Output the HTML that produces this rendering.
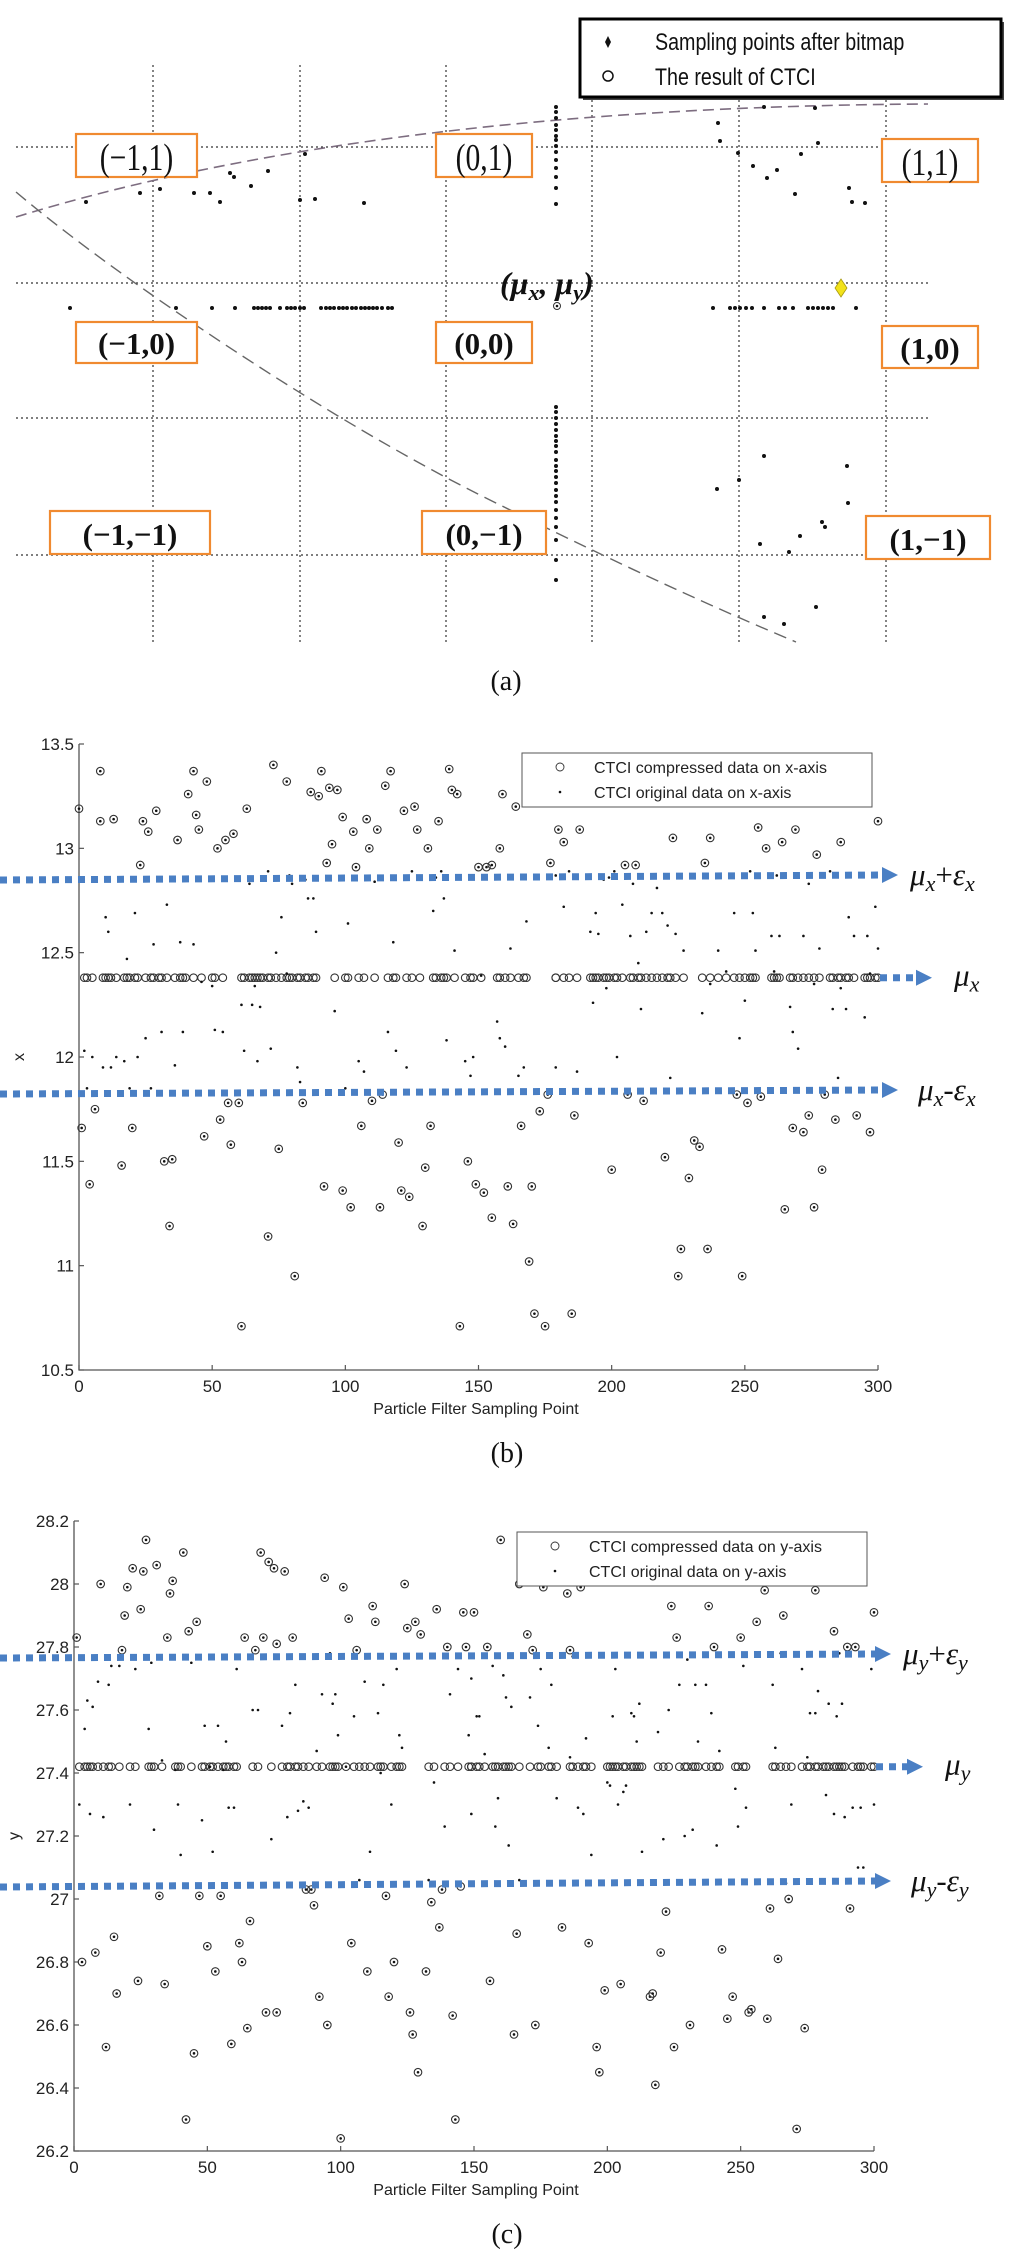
<!DOCTYPE html>
<html><head><meta charset="utf-8"><style>
html,body{margin:0;padding:0;background:#fff;}
svg{display:block;}
text{font-family:"Liberation Sans",sans-serif;}
.tk{font-size:17px;fill:#222;}
.ser{font-family:"Liberation Serif",serif;}
</style></head><body>
<svg id="fig" width="1024" height="2261" viewBox="0 0 1024 2261" xmlns="http://www.w3.org/2000/svg">
<g id="panelA"></g>
<g id="panelB"></g>
<g id="panelC"></g>
</svg>
<script>
// ---------- Panel (b) data ----------
const bMu = 12.38;
const bXTicks = [0,50,100,150,200,250,300];
const bYTicks = [10.5,11,11.5,12,12.5,13,13.5];
const bYTickLabels = ["10.5","11","11.5","12","12.5","13","13.5"];
const bHighIdx = [0,8,8,13,23,24,26,29,37,41,43,44,45,48,52,55,58,63,73,78,87,90,91,93,94,95,97,99,103,104,108,109,112,115,117,122,126,127,131,135,139,140,142,150,153,155,158,159,164,177,180,182,188,205,209,223,235,237,255,258,264,269,277,286,300];
const bHighVal = [13.19,13.37,13.13,13.14,12.92,13.13,13.08,13.18,13.04,13.26,13.37,13.16,13.09,13.32,13.0,13.04,13.07,13.19,13.4,13.32,13.27,13.25,13.37,12.93,13.29,13.02,13.28,13.15,13.08,12.91,13.14,13.0,13.09,13.3,13.37,13.18,13.2,13.09,13.0,13.13,13.38,13.28,13.26,12.91,12.91,12.92,13.0,13.26,13.2,12.93,13.09,13.03,13.09,12.92,12.92,13.05,12.93,13.05,13.1,13.0,13.03,13.09,12.97,13.03,13.13];
const bLowIdx = [1,4,6,16,20,32,34,35,47,53,56,57,60,61,71,75,81,84,92,99,102,106,110,113,114,120,121,124,129,130,132,143,146,149,152,155,161,163,166,169,170,171,173,175,176,185,186,200,206,212,220,225,226,229,231,233,236,247,249,251,256,265,268,272,274,276,279,280,284,292,297];
const bLowVal = [11.66,11.39,11.75,11.48,11.66,11.5,11.19,11.51,11.62,11.7,11.78,11.58,11.78,10.71,11.14,11.56,10.95,11.78,11.38,11.36,11.28,11.67,11.79,11.28,11.82,11.59,11.36,11.33,11.19,11.47,11.67,10.71,11.5,11.39,11.35,11.23,11.38,11.2,11.67,11.02,11.38,10.77,11.74,10.71,11.82,10.77,11.72,11.46,11.82,11.79,11.52,10.95,11.08,11.42,11.6,11.57,11.08,11.82,10.95,11.78,11.81,11.27,11.66,11.64,11.72,11.28,11.46,11.82,11.7,11.72,11.64];
const bInIdx = [2,3,5,9,10,11,12,14,17,18,19,21,22,25,27,28,30,31,33,36,38,39,40,43,46,50,51,54,61,62,64,65,66,67,68,69,71,72,74,76,78,79,80,82,83,85,86,88,89,96,100,101,105,107,111,116,118,119,123,125,128,133,134,136,137,138,141,145,147,148,151,157,158,160,162,165,167,168,179,179,182,184,187,192,193,194,195,197,198,199,201,202,204,207,208,210,211,213,215,217,219,221,222,224,227,234,237,240,243,246,248,250,252,253,254,260,261,262,263,267,268,270,272,274,276,278,282,283,285,286,288,289,291,295,296,297,299,300];
const bInVal = [12.03,11.85,12.0,11.95,12.67,12.6,11.95,12.0,11.98,12.47,11.85,12.69,12.0,12.09,11.85,12.54,12.85,12.12,12.73,11.96,12.55,12.12,12.85,12.54,12.36,12.34,12.13,12.12,12.25,12.03,12.83,12.25,12.34,11.98,12.24,12.85,12.89,12.04,12.5,12.67,12.4,12.87,12.83,11.95,11.88,12.85,12.76,12.76,12.6,12.22,11.85,12.64,11.98,11.93,12.84,12.12,12.55,12.03,11.95,12.89,12.85,12.7,12.86,12.89,12.76,12.08,12.51,11.98,11.91,12.0,12.39,12.17,12.09,12.05,12.52,11.91,11.95,12.65,12.87,11.95,12.72,12.89,11.93,12.6,12.26,12.69,12.59,12.85,12.33,12.86,12.89,12.0,12.73,12.58,12.83,12.45,12.23,12.6,12.69,12.81,12.69,12.63,11.9,12.59,12.51,12.21,12.35,12.51,12.41,12.69,12.09,12.27,12.89,12.69,12.51,12.58,12.41,12.87,12.58,12.24,12.12,12.04,12.58,12.83,12.35,12.52,12.89,12.23,11.9,12.33,12.23,12.67,12.58,12.19,12.58,12.4,12.72,12.52];

// ---------- Panel (c) data ----------
const cMu = 27.42;
const cXTicks = [0,50,100,150,200,250,300];
const cYTicks = [26.2,26.4,26.6,26.8,27,27.2,27.4,27.6,27.8,28,28.2];
const cYTickLabels = ["26.2","26.4","26.6","26.8","27","27.2","27.4","27.6","27.8","28","28.2"];
const cHighIdx = [1,10,18,19,20,22,25,26,27,31,35,36,37,41,43,46,64,68,70,71,73,75,76,79,82,94,101,103,106,112,113,124,125,128,130,136,140,146,147,150,155,160,167,170,172,176,185,186,190,224,226,238,240,250,256,259,266,278,285,290,293,300];
const cHighVal = [27.83,28.0,27.79,27.9,27.99,28.05,27.92,28.04,28.14,28.06,27.83,27.97,28.01,28.1,27.85,27.88,27.83,27.79,28.1,27.83,28.07,28.05,27.81,28.04,27.83,28.02,27.99,27.89,27.79,27.93,27.88,28.0,27.86,27.88,27.84,27.92,27.8,27.91,27.8,27.91,27.8,28.14,28.0,27.84,27.79,27.99,27.97,27.79,27.99,27.93,27.83,27.93,27.8,27.83,27.88,27.98,27.9,27.98,27.85,27.8,27.8,27.91];
const cLowIdx = [3,8,12,15,16,24,32,34,42,45,47,50,53,55,59,62,63,65,66,72,76,87,89,90,92,95,100,104,110,117,118,120,126,127,129,132,134,137,138,142,143,145,156,165,166,173,183,193,196,197,199,205,216,217,218,220,222,225,231,243,245,247,253,254,260,261,264,268,271,274,291];
const cLowVal = [26.8,26.83,26.53,26.88,26.7,26.74,27.01,26.73,26.3,26.51,27.01,26.85,26.77,27.01,26.54,26.86,26.8,26.59,26.93,26.64,26.64,27.03,27.03,26.98,26.69,26.6,26.24,26.86,26.77,27.01,26.69,26.8,26.64,26.57,26.45,26.77,26.99,26.91,27.03,26.63,26.3,27.04,26.74,26.57,26.89,26.6,26.91,26.86,26.53,26.45,26.71,26.73,26.69,26.7,26.41,26.83,26.96,26.53,26.6,26.84,26.62,26.69,26.64,26.65,26.62,26.97,26.81,27.0,26.27,26.59,26.97];
const cInIdx = [2,4,5,6,7,9,11,13,14,17,21,23,28,29,30,33,38,39,40,44,48,49,51,52,54,56,57,58,60,61,67,69,74,78,80,81,83,84,86,88,91,93,96,97,98,99,102,105,107,109,111,114,115,116,119,121,122,123,133,135,139,141,144,148,149,149,151,152,154,157,158,159,161,162,163,164,167,171,174,175,178,179,181,186,187,189,191,192,194,200,201,202,203,204,206,207,209,210,211,212,213,219,221,223,227,229,230,232,233,234,237,239,241,242,248,249,251,252,262,263,265,267,269,273,275,276,278,279,281,282,283,285,286,287,288,289,292,294,295,296,299,300];
const cInVal = [27.3,27.54,27.63,27.27,27.61,27.69,27.26,27.68,27.74,27.74,27.3,27.73,27.54,27.75,27.22,27.44,27.41,27.3,27.14,27.75,27.25,27.55,27.42,27.15,27.55,27.41,27.5,27.29,27.29,27.73,27.6,27.6,27.19,27.55,27.26,27.59,27.68,27.28,27.31,27.29,27.47,27.65,27.78,27.62,27.65,27.52,27.42,27.58,27.06,27.69,27.15,27.59,27.4,27.68,27.3,27.73,27.52,27.48,27.06,27.37,27.23,27.65,27.73,27.52,27.27,27.7,27.58,27.58,27.46,27.74,27.23,27.32,27.71,27.64,27.17,27.61,27.06,27.64,27.55,27.73,27.48,27.68,27.32,27.45,27.77,27.29,27.27,27.51,27.14,27.37,27.36,27.58,27.73,27.3,27.34,27.36,27.59,27.58,27.5,27.62,27.15,27.53,27.19,27.6,27.68,27.2,27.76,27.22,27.68,27.5,27.68,27.59,27.17,27.47,27.35,27.23,27.74,27.29,27.68,27.48,27.78,27.05,27.3,27.73,27.45,27.59,27.59,27.66,27.78,27.33,27.62,27.27,27.58,27.78,27.62,27.26,27.29,27.1,27.29,27.1,27.73,27.3];

// ---------- Panel (a) diagram data ----------
const aHGrid = [147,283,418,555];
const aVGrid = [153,300,446,592,739,886];
const aColX = 556;
const aColY = [107,112,118,125,130,136,140,146,152,160,168,177,188,204,407,412,418,424,430,436,441,446,452,460,466,471,477,483,490,496,502,510,518,527,540,560,580];
const aRowY = 308;
const aRowX = [70,176,212,235,254,258,262,266,270,280,287,291,295,300,304,321,326,330,334,339,343,347,352,356,361,365,369,373,377,382,388,392,713,730,735,740,746,752,764,779,785,793,808,813,818,823,828,833,856];
const aPtX = [86,140,160,194,210,220,230,234,251,268,305,300,315,364,718,720,738,753,767,777,764,815,818,801,795,849,852,865,764,717,739,847,848,822,825,800,760,789,764,784,816];
const aPtY = [202,193,189,193,193,202,173,177,186,171,154,200,199,203,123,141,153,166,178,170,107,108,143,154,194,188,202,203,456,489,480,466,503,522,527,536,544,552,617,624,607];

const NS = "http://www.w3.org/2000/svg";
function mk(parent, tag, attrs, txt){
  const e = document.createElementNS(NS, tag);
  for (const k in attrs) e.setAttribute(k, attrs[k]);
  if (txt !== undefined) e.textContent = txt;
  parent.appendChild(e);
  return e;
}

// ===== Panel A =====
(function(){
  const g = document.getElementById('panelA');
  aHGrid.forEach(y=>{
    const l = mk(g,'line',{x1:16,y1:y,x2:930,y2:y,stroke:'#333','stroke-width':1.2,'stroke-dasharray':'2 3'});
    
    
  });
  aVGrid.forEach(x=>{
    const l = mk(g,'line',{x1:x,y1:65,x2:x,y2:642,stroke:'#333','stroke-width':1.2,'stroke-dasharray':'2 3'});
    
    
  });
  const c1 = mk(g,'path',{d:'M16 217 C 250 145, 560 106, 928 104',fill:'none',stroke:'#7d6d80','stroke-width':1.6,'stroke-dasharray':'11 6'});
  
  
  const c2 = mk(g,'path',{d:'M16 192 C 120 280, 330 420, 480 495 S 720 610, 796 642',fill:'none',stroke:'#666','stroke-width':1.4,'stroke-dasharray':'13 7'});
  
  
  aColY.forEach(y=>{
    const d = mk(g,'circle',{cx:aColX,cy:y,r:2,fill:'#111'});
    
    
  });
  aRowX.forEach(x=>{
    const d = mk(g,'circle',{cx:x,cy:aRowY,r:2,fill:'#111'});
    
    
  });
  aPtX.forEach((x,i)=>{
    const d = mk(g,'circle',{cx:x,cy:aPtY[i],r:2,fill:'#111'});
    
    
  });
  const ctr = mk(g,'circle',{cx:557,cy:306,r:3.5,fill:'none',stroke:'#333','stroke-width':1});
  
  
  mk(g,'circle',{cx:557,cy:306,r:1.3,fill:'#111'});
  const dia = mk(g,'path',{d:'M841 279 L847 288 L841 297 L835 288 Z',fill:'#f2e21a',stroke:'#a89a10','stroke-width':0.8});
  
  
  const mu = mk(g,'text',{x:500,y:294,'font-size':32,'font-weight':'bold','font-style':'italic',class:'ser',fill:'#111'});
  
  
  mu.innerHTML = '(μ<tspan font-size="22" dy="6">x</tspan><tspan dy="-6">, μ</tspan><tspan font-size="22" dy="6">y</tspan><tspan dy="-6">)</tspan>';
  const boxes = [
    [76,134,121,43,'(−1,1)','box-minus1-1',0],[436,134,96,43,'(0,1)','box-0-1',0],[882,139,96,43,'(1,1)','box-1-1',0],
    [76,322,121,41,'(−1,0)','box-minus1-0',1],[436,322,96,41,'(0,0)','box-0-0',1],[882,326,96,42,'(1,0)','box-1-0',1],
    [50,511,160,43,'(−1,−1)','box-minus1-minus1',1],[422,511,124,43,'(0,−1)','box-0-minus1',1],[866,516,124,43,'(1,−1)','box-1-minus1',1]
  ];
  boxes.forEach(b=>{
    const r = mk(g,'rect',{x:b[0],y:b[1],width:b[2],height:b[3],fill:'#fff',stroke:'#f08a30','stroke-width':2.2});
    
    
    const cx = b[0]+b[2]/2;
    const attrs = b[6] ? {x:cx,y:b[1]+b[3]-9,'text-anchor':'middle','font-size':31,'font-weight':'bold',class:'ser',fill:'#111'}
                       : {x:cx,y:b[1]+b[3]-7,'text-anchor':'middle','font-size':38,class:'ser',fill:'#111',transform:`translate(${cx} 0) scale(0.78 1) translate(${-cx} 0)`};
    const t = mk(g,'text',attrs,b[4]);
    
    
  });
  const lg = mk(g,'g',{});
  
  
  mk(lg,'rect',{x:583,y:22,width:421,height:78,fill:'#444'});
  mk(lg,'rect',{x:580,y:19,width:421,height:78,fill:'#fff',stroke:'#000','stroke-width':3});
  mk(lg,'path',{d:'M608 36 L611 42 L608 48 L605 42 Z',fill:'#111'});
  mk(lg,'circle',{cx:608,cy:76,r:5,fill:'none',stroke:'#111','stroke-width':1.5});
  const t1 = mk(lg,'text',{x:655,y:50,'font-size':24,fill:'#111',transform:'translate(655 0) scale(0.82 1) translate(-655 0)'},'Sampling points after bitmap');
  
  
  const t2 = mk(lg,'text',{x:655,y:85,'font-size':24,fill:'#111',transform:'translate(655 0) scale(0.82 1) translate(-655 0)'},'The result of CTCI');
  
  
  const cap = mk(g,'text',{x:506,y:690,'text-anchor':'middle','font-size':28,class:'ser',fill:'#111'},'(a)');
  
  
})();

// ===== Scatter panels =====
function drawPanel(o){
  const g = document.getElementById(o.id);
  const xs = v => o.x0 + (v - o.xmin)/(o.xmax - o.xmin)*(o.x1 - o.x0);
  const ys = v => o.yb - (v - o.ymin)/(o.ymax - o.ymin)*(o.yb - o.yt);
  const ax = mk(g,'path',{d:`M${o.x0} ${o.yt} L${o.x0} ${o.yb} L${o.x1} ${o.yb}`,fill:'none',stroke:'#555','stroke-width':1.3});
  
  
  o.yTicks.forEach((v,i)=>{
    const y = ys(v);
    mk(g,'line',{x1:o.x0,y1:y,x2:o.x0+5,y2:y,stroke:'#555','stroke-width':1.2});
    const t = mk(g,'text',{x:o.x0-5,y:y+6,'text-anchor':'end',class:'tk'},o.yLabels[i]);
    
    
  });
  o.xTicks.forEach(v=>{
    const x = xs(v);
    mk(g,'line',{x1:x,y1:o.yb,x2:x,y2:o.yb-5,stroke:'#555','stroke-width':1.2});
    const t = mk(g,'text',{x:x,y:o.yb+22,'text-anchor':'middle',class:'tk'},String(v));
    
    
  });
  const xt = mk(g,'text',{x:476,y:o.yb+44,'text-anchor':'middle','font-size':16,fill:'#222'},'Particle Filter Sampling Point');
  
  
  const yt = mk(g,'text',{x:0,y:0,'font-size':16,fill:'#222','text-anchor':'middle',transform:`translate(${o.x0-55} ${(o.yt+o.yb)/2}) rotate(-90)`},o.yName);
  
  

  function circ(i,v){
    const c = mk(g,'circle',{cx:xs(i),cy:ys(v),r:3.8,fill:'none',stroke:'#333','stroke-width':1.1});
    
    
  }
  function dot(i,v){
    const d = mk(g,'circle',{cx:xs(i),cy:ys(v),r:1.3,fill:'#111'});
    
    
  }
  o.highIdx.forEach((i,k)=>{circ(i,o.highVal[k]);dot(i,o.highVal[k]);});
  o.lowIdx.forEach((i,k)=>{circ(i,o.lowVal[k]);dot(i,o.lowVal[k]);});
  o.inIdx.forEach((i,k)=>{circ(i,o.mu);});
  o.inIdx.forEach((i,k)=>{dot(i,o.inVal[k]);});

  function arrow(xa,ya,xb,yb,name){
    const a = mk(g,'g',{});
    
    
    mk(a,'line',{x1:xa,y1:ya,x2:xb-14,y2:yb,stroke:'#4a7fc4','stroke-width':7,'stroke-dasharray':'7 6'});
    mk(a,'path',{d:`M${xb-16} ${yb-8} L${xb} ${yb} L${xb-16} ${yb+8} Z`,fill:'#4a7fc4'});
  }
  arrow(0,o.upY0,o.arrowX,o.upY1,'upper-threshold-arrow');
  arrow(o.x1+2,ys(o.mu),o.midX,ys(o.mu),'mean-arrow');
  arrow(0,o.loY0,o.arrowX,o.loY1,'lower-threshold-arrow');
  const sub = o.sub;
  function lab(x,y,html,name){
    const t = mk(g,'text',{x:x,y:y,'font-size':31,'font-style':'italic',class:'ser',fill:'#111'});
    t.innerHTML = html;
    
    
  }
  lab(o.arrowX+12,o.upY1+10,`μ<tspan font-size="22" dy="6">${sub}</tspan><tspan dy="-6" font-style="normal">+</tspan>ε<tspan font-size="22" dy="6">${sub}</tspan>`,'mu-plus-epsilon-label');
  lab(o.midX+22,ys(o.mu)+8,`μ<tspan font-size="22" dy="6">${sub}</tspan>`,'mu-label');
  lab(o.arrowX+20,o.loY1+10,`μ<tspan font-size="22" dy="6">${sub}</tspan><tspan dy="-6" font-style="normal">-</tspan>ε<tspan font-size="22" dy="6">${sub}</tspan>`,'mu-minus-epsilon-label');

  const lg = mk(g,'g',{});
  
  
  mk(lg,'rect',{x:o.lgX,y:o.lgY,width:350,height:54,fill:'#fff',stroke:'#555','stroke-width':1});
  mk(lg,'circle',{cx:o.lgX+38,cy:o.lgY+14,r:4,fill:'none',stroke:'#333','stroke-width':0.9});
  mk(lg,'circle',{cx:o.lgX+38,cy:o.lgY+39,r:1.3,fill:'#111'});
  const e1 = mk(lg,'text',{x:o.lgX+72,y:o.lgY+20,'font-size':16,fill:'#222'},`CTCI compressed data on ${o.yName}-axis`);
  
  
  const e2 = mk(lg,'text',{x:o.lgX+72,y:o.lgY+45,'font-size':16,fill:'#222'},`CTCI original data on ${o.yName}-axis`);
  
  
  const cap = mk(g,'text',{x:507,y:o.yb+92,'text-anchor':'middle','font-size':28,class:'ser',fill:'#111'},o.caption);
  
  
}

drawPanel({id:'panelB',x0:79,x1:878,xmin:0,xmax:300,yt:744,yb:1370,ymin:10.5,ymax:13.5,
  xTicks:bXTicks,yTicks:bYTicks,yLabels:bYTickLabels,yName:'x',mu:bMu,
  highIdx:bHighIdx,highVal:bHighVal,lowIdx:bLowIdx,lowVal:bLowVal,inIdx:bInIdx,inVal:bInVal,
  upY0:880,upY1:875,loY0:1094,loY1:1090,arrowX:898,midX:932,sub:'x',lgX:522,lgY:753,caption:'(b)'});
drawPanel({id:'panelC',x0:74,x1:874,xmin:0,xmax:300,yt:1521,yb:2151,ymin:26.2,ymax:28.2,
  xTicks:cXTicks,yTicks:cYTicks,yLabels:cYTickLabels,yName:'y',mu:cMu,
  highIdx:cHighIdx,highVal:cHighVal,lowIdx:cLowIdx,lowVal:cLowVal,inIdx:cInIdx,inVal:cInVal,
  upY0:1658,upY1:1654,loY0:1887,loY1:1881,arrowX:891,midX:923,sub:'y',lgX:517,lgY:1532,caption:'(c)'});
</script>
</body></html>
